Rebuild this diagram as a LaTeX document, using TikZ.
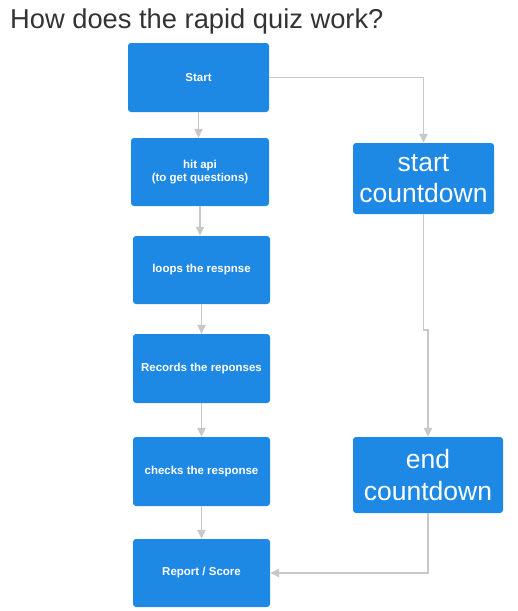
\documentclass[tikz,border=0pt]{standalone}
\usepackage{fontspec}
\setmainfont{Liberation Sans}
\usepackage{xcolor}
\usetikzlibrary{arrows.meta}
\definecolor{boxblue}{HTML}{1E88E5}
\definecolor{linegray}{HTML}{C8C8C8}
\definecolor{titlegray}{HTML}{333333}

\begin{document}
\begin{tikzpicture}[x=1pt,y=-1pt,
        box/.style={fill=boxblue,rounded corners=3pt,text=white,align=center,
          font=\fontsize{11.5}{13.5}\selectfont\bfseries},
        bigbox/.style={box,font=\fontsize{26.5}{31.5}\selectfont},
        link/.style={draw=linegray,line width=1.3pt,-{Triangle[width=8.5pt,length=9pt]}}]
        \useasboundingbox (0,0) rectangle (518,611);
        \node[anchor=base west,text=titlegray,font=\fontsize{27.3}{30}\selectfont,inner sep=0pt](title) at (10,28) {How does the rapid quiz work?};
        \node[box,minimum width=141pt,minimum height=69pt](start) at (198.5,77.5) {Start};
        \node[box,minimum width=138pt,minimum height=68pt](hit) at (200,172) {hit api\\(to get questions)};
        \node[box,minimum width=137pt,minimum height=68pt](loops) at (201.5,270) {loops the respnse};
        \node[box,minimum width=137pt,minimum height=69pt](records) at (201.5,368.5) {Records the reponses};
        \node[box,minimum width=137pt,minimum height=69pt](checks) at (201.5,471.5) {checks the response};
        \node[box,minimum width=137pt,minimum height=68pt](report) at (201.5,573) {Report / Score};
        \node[bigbox,minimum width=141pt,minimum height=71pt](sc) at (423.5,178.5) {start\\countdown};
        \node[bigbox,minimum width=150pt,minimum height=76pt](ec) at (428,475) {end\\countdown};
        \coordinate(jog) at (428,330);
        \draw[link](start)--(start|-hit.north);
        \draw[link](hit)--(hit|-loops.north);
        \draw[link](loops)--(records);
        \draw[link](records)--(checks);
        \draw[link](checks)--(report);
        \draw[link](start.east)-|(sc.north);
        \draw[link](sc.south)|-(jog)-|(ec.north);
        \draw[link](ec.south)|-(report.east);
        \end{tikzpicture}
\end{document}
